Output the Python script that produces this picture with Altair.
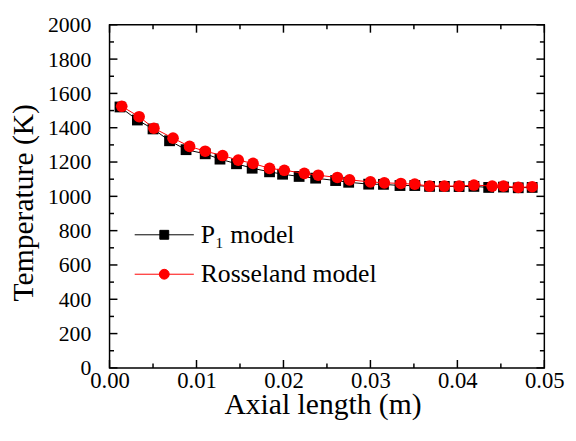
import altair as alt
import pandas as pd

# ---- data ----
series_names = ["P\u2081 model", "Rosseland model"]

x_p1 = [0.0012, 0.0032, 0.0050, 0.0069, 0.0088, 0.0110, 0.0127, 0.0146, 0.0164,
        0.0184, 0.0199, 0.0218, 0.0237, 0.0260, 0.0275, 0.0298, 0.0315, 0.0334,
        0.0351, 0.0368, 0.0385, 0.0402, 0.0419, 0.0436, 0.0453, 0.0470, 0.0486]
t_p1 = [1521, 1445, 1393, 1324, 1272, 1248, 1217, 1190, 1164,
        1143, 1129, 1116, 1106, 1092, 1082, 1071, 1070, 1063,
        1063, 1058, 1058, 1057, 1058, 1052, 1054, 1050, 1052]

x_ros = [0.0014, 0.0034, 0.0051, 0.0073, 0.0092, 0.0110, 0.0130, 0.0148, 0.0165,
         0.0184, 0.0201, 0.0224, 0.0240, 0.0262, 0.0276, 0.0300, 0.0316, 0.0335,
         0.0351, 0.0368, 0.0385, 0.0402, 0.0419, 0.0440, 0.0453, 0.0470, 0.0486]
t_ros = [1525, 1464, 1397, 1339, 1291, 1263, 1238, 1211, 1192,
         1163, 1152, 1134, 1123, 1110, 1096, 1084, 1079, 1075,
         1071, 1060, 1060, 1060, 1066, 1060, 1060, 1052, 1056]

x_major = [0.0, 0.01, 0.02, 0.03, 0.04, 0.05]
x_minor = [0.005, 0.015, 0.025, 0.035, 0.045]
y_major = [0, 200, 400, 600, 800, 1000, 1200, 1400, 1600, 1800, 2000]
y_minor = [100, 300, 500, 700, 900, 1100, 1300, 1500, 1700, 1900]

W, H = 441, 348
FONT = "Liberation Serif"

df_p1 = pd.DataFrame({"x": x_p1, "T": t_p1, "series": series_names[0]})
df_ros = pd.DataFrame({"x": x_ros, "T": t_ros, "series": series_names[1]})
df_leg = pd.DataFrame({"x": [0.0, 0.0], "T": [0, 0], "series": series_names})

xs = alt.Scale(domain=[0, 0.05], nice=False, zero=False)
ys = alt.Scale(domain=[0, 2000], nice=False, zero=False)

common_axis = dict(labelFlush=False, labelOverlap=False,
                   labelFont=FONT, labelColor="black",
                   titleFont=FONT, titleFontSize=30, titleFontWeight="normal",
                   titleColor="black", tickSize=0, tickOpacity=0,
                   domainOpacity=0, gridOpacity=0)
xaxis = alt.Axis(title="Axial length (m)", values=x_major, format=".2f",
                 labelFontSize=23, labelPadding=2, titleX=216, titleY=46,
                 titleBaseline="alphabetic", titleAlign="center", **common_axis)
yaxis = alt.Axis(title="Temperature (K)", values=y_major, format="d",
                 labelFontSize=22, labelPadding=19, titleX=-78, titleY=180,
                 titleBaseline="alphabetic", titleAlign="center", **common_axis)

X = alt.X("x:Q", scale=xs, axis=xaxis)
Y = alt.Y("T:Q", scale=ys, axis=yaxis)

# data layers
line_p1 = alt.Chart(df_p1).mark_line(color="black", strokeWidth=1).encode(x=X, y=Y)
pts_p1 = alt.Chart(df_p1).mark_square(color="black", size=120, opacity=1).encode(x=X, y=Y)
line_ros = alt.Chart(df_ros).mark_line(color="red", strokeWidth=1).encode(x=X, y=Y)
pts_ros = alt.Chart(df_ros).mark_circle(color="red", size=140, opacity=1).encode(x=X, y=Y)

# legend-only layer (no visible marks)
sq_path = "M-1,0H5M1.55,-0.45H2.45V0.45H1.55Z"
ci_path = "M-1,0H5M2.5,0A0.5,0.5,0,1,1,1.5,0A0.5,0.5,0,1,1,2.5,0Z"
legend = alt.Legend(title=None, orient="none", legendX=22.5, legendY=200,
                    padding=0, labelOffset=44, rowPadding=14, symbolSize=400,
                    symbolStrokeWidth=1, labelLimit=0, symbolOpacity=1,
                    labelFont=FONT, labelFontSize=26, labelColor="black")
leg_layer = alt.Chart(df_leg).mark_point(size=400, filled=True, opacity=1).encode(
    x=X, y=Y,
    fill=alt.Fill("series:N", scale=alt.Scale(domain=series_names, range=["black", "red"]), legend=legend),
    stroke=alt.Stroke("series:N", scale=alt.Scale(domain=series_names, range=["black", "red"]), legend=legend),
    shape=alt.Shape("series:N", scale=alt.Scale(domain=series_names, range=[sq_path, ci_path]), legend=legend),
).transform_filter("false")

# inside ticks
def xticks(vals, length, top):
    d = pd.DataFrame({"x": vals})
    if top:
        return alt.Chart(d).mark_rule(color="black", strokeWidth=1.5).encode(
            x=X, y=alt.value(0), y2=alt.value(length))
    return alt.Chart(d).mark_rule(color="black", strokeWidth=1.5).encode(
        x=X, y=alt.value(H), y2=alt.value(H - length))

def yticks(vals, length, right):
    d = pd.DataFrame({"T": vals})
    if right:
        return alt.Chart(d).mark_rule(color="black", strokeWidth=1.5).encode(
            y=Y, x=alt.value(W), x2=alt.value(W - length))
    return alt.Chart(d).mark_rule(color="black", strokeWidth=1.5).encode(
        y=Y, x=alt.value(0), x2=alt.value(length))

ticks = [xticks(x_major, 8, False), xticks(x_minor, 4.5, False),
         xticks(x_major, 8, True), xticks(x_minor, 4.5, True),
         yticks(y_major, 8, False), yticks(y_minor, 4.5, False),
         yticks(y_major, 8, True), yticks(y_minor, 4.5, True)]

chart = alt.layer(line_p1, *ticks, pts_p1, line_ros, pts_ros, leg_layer).properties(
    width=W, height=H,
    autosize=alt.AutoSizeParams(type="none"),
    padding={"left": 103, "top": 14, "right": 24, "bottom": 63},
).configure(
    font=FONT,
    background="white",
    view=alt.ViewConfig(stroke="black", strokeWidth=1.5),
    style={"guide-label": {"font": FONT, "fill": "black"},
           "guide-title": {"font": FONT, "fontSize": 30, "fill": "black", "fontWeight": "normal"}},
)

chart.save("out.html", embed_options={"renderer": "svg", "actions": False})
